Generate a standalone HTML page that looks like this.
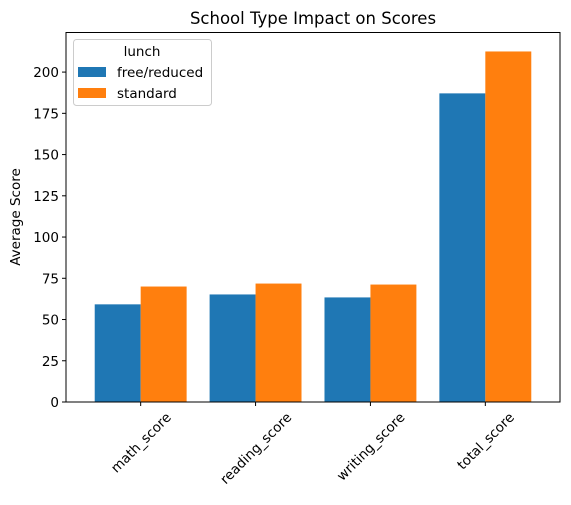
<!DOCTYPE html>
<html><head><meta charset="utf-8"><style>
body{margin:0;background:#fff;}
text{font-family:"DejaVu Sans","Liberation Sans",sans-serif;fill:#000;}
</style></head><body>
<svg id="chart" width="571" height="500" xmlns="http://www.w3.org/2000/svg">
<text x="313" y="24" font-size="16.5" text-anchor="middle">School Type Impact on Scores</text>
<text transform="translate(20,217) rotate(-90)" font-size="13.5" text-anchor="middle">Average Score</text>
<g id="bars"></g>
<g id="axes"></g>
<g>
<rect x="73.5" y="39.5" width="138" height="66" rx="3" fill="#fff" fill-opacity="0.8" stroke="#ccc"/>
<text x="142" y="56" font-size="13.5" text-anchor="middle">lunch</text>
<rect x="78" y="67" width="28" height="10" fill="#1f77b4"/>
<text x="117" y="77" font-size="13.5">free/reduced</text>
<rect x="78" y="88" width="28" height="10" fill="#ff7f0e"/>
<text x="117" y="98" font-size="13.5">standard</text>
</g>
</svg>
<script>
const categories=["math_score","reading_score","writing_score","total_score"];
const freeReduced=[59.2,65.2,63.4,187.1];
const standard=[70.0,71.8,71.2,212.5];
const yTicks=[0,25,50,75,100,125,150,175,200];
const ns="http://www.w3.org/2000/svg";
const L=66,R=560,T=32.5,B=402;
const xMin=-0.65,xMax=3.65,yMax=224;
const xs=v=>L+(v-xMin)/(xMax-xMin)*(R-L);
const ys=v=>B-v/yMax*(B-T);
function mk(tag,attrs){const e=document.createElementNS(ns,tag);for(const k in attrs)e.setAttribute(k,attrs[k]);return e;}
const bars=document.getElementById('bars'),axes=document.getElementById('axes');
categories.forEach((c,i)=>{
  const a=mk('rect',{x:xs(i-0.4),y:ys(freeReduced[i]),width:xs(0.4)-xs(0),height:B-ys(freeReduced[i]),fill:'#1f77b4'});
  
  
  bars.appendChild(a);
  const b=mk('rect',{x:xs(i),y:ys(standard[i]),width:xs(0.4)-xs(0),height:B-ys(standard[i]),fill:'#ff7f0e'});
  
  
  bars.appendChild(b);
  const tk=mk('line',{x1:xs(i),x2:xs(i),y1:B,y2:B+4,stroke:'#000'});
  
  
  axes.appendChild(tk);
  const t=mk('text',{'font-size':'13.5','text-anchor':'middle'});
  t.textContent=c;
  
  
  axes.appendChild(t);
  const len=t.getComputedTextLength();
  const cy=B+8+(len+13)*0.7071/2;
  t.setAttribute('transform',`translate(${xs(i)},${cy}) rotate(-45)`);
  t.setAttribute('y','5');
});
yTicks.forEach(v=>{
  const tk=mk('line',{x1:L-4,x2:L,y1:ys(v),y2:ys(v),stroke:'#000'});
  
  
  axes.appendChild(tk);
  const t=mk('text',{x:L-7,y:ys(v)+5,'font-size':'13.5','text-anchor':'end'});
  t.textContent=v;
  
  
  axes.appendChild(t);
});
const fr=mk('rect',{x:L,y:T,width:R-L,height:B-T,fill:'none',stroke:'#000','stroke-width':1});


axes.appendChild(fr);
</script>
</body></html>
